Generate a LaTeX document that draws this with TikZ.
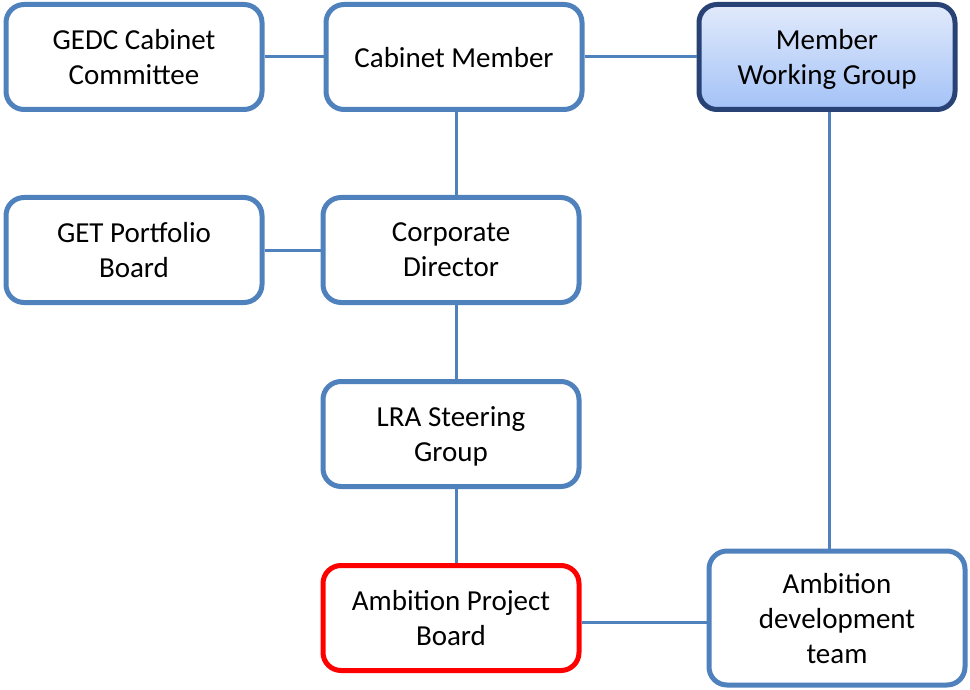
\documentclass[tikz,border=0pt]{standalone}
\usepackage{fontspec}
\setmainfont{Carlito}
\definecolor{orgblue}{RGB}{79,129,189}
\definecolor{orgnavy}{RGB}{40,66,118}
\definecolor{orgsky}{RGB}{226,234,251}
\definecolor{orgskydark}{RGB}{163,194,247}
\definecolor{orgred}{RGB}{255,0,0}
\usetikzlibrary{positioning,calc}

\begin{document}
\begin{tikzpicture}[
  x=1pt, y=-1pt,
  unit/.style={
    rectangle, rounded corners=18pt,
    draw=orgblue, line width=5pt,
    fill=white,
    minimum width=256pt, minimum height=105pt,
    align=center, text=black, text depth=-4pt,
    font=\fontsize{29}{35}\selectfont
  },
  member/.style={unit, draw=orgnavy, top color=orgsky, bottom color=orgskydark},
  project/.style={unit, draw=orgred},
  link/.style={draw=orgblue, line width=3pt}
]
\useasboundingbox (0,0) rectangle (970,690);

% Top row
\node[unit] (gedc) at (134,57) {GEDC Cabinet\\Committee};
\node[unit] (cm) at (454,57) {Cabinet Member};
\node[member] (mwg) at (827,57) {Member\\Working Group};

% Second row
\node[unit] (get) at (134,250) {GET Portfolio\\Board};
\node[unit] (cd) at (451,250) {Corporate\\Director};

% Lower column
\node[unit] (lra) at (451,434) {LRA Steering\\Group};
\node[project] (apb) at (451,618) {Ambition Project\\Board};
\node[unit, minimum height=134pt, text depth=-8pt] (adt) at (837,618) {Ambition\\development\\team};

% Joints on the right
\coordinate (apbjoin) at ($(apb.east)+(0,4)$);
\coordinate (mwgjoin) at ($(mwg.south)+(2,0)$);

% Connectors
\draw[link] (gedc.east) -- (cm.west);
\draw[link] (cm.east) -- (mwg.west);
\draw[link] ($(cm.south)+(2,0)$) -- ($(cd.north)+(5,0)$);
\draw[link] (get.east) -- (cd.west);
\draw[link] ($(cd.south)+(5,0)$) -- ($(lra.north)+(5,0)$);
\draw[link] ($(lra.south)+(5,0)$) -- ($(apb.north)+(5,0)$);
\draw[link] (apbjoin) -- (apbjoin -| adt.west);
\draw[link] (mwgjoin) -- (mwgjoin |- adt.north);
\end{tikzpicture}
\end{document}
